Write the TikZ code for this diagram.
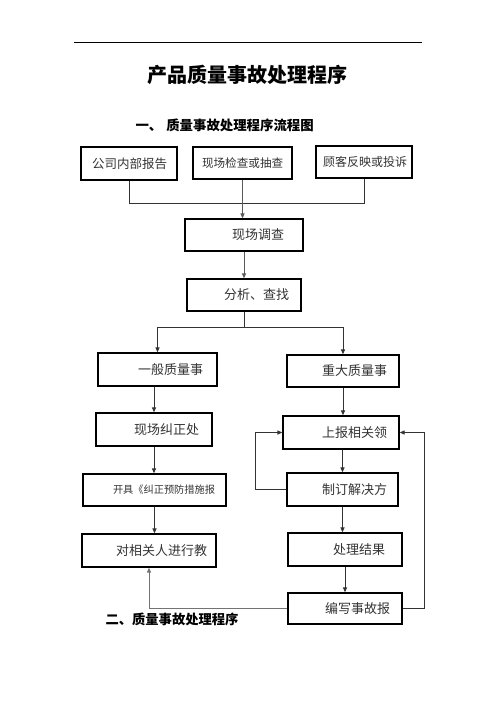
\documentclass[tikz,border=0pt]{standalone}
\usepackage{fontspec}
\setmainfont{Noto Sans CJK SC}
\usetikzlibrary{arrows.meta}
\tikzset{
  box/.style={draw, line width=1.2pt, inner xsep=0pt, align=left,
    text=black!80, font=\fontsize{13}{15}\selectfont},
  link/.style={line width=1pt, draw=black!80},
  arrow/.style={link, -{Triangle[length=5pt,width=4pt]}}
}
\begin{document}
\begin{tikzpicture}[x=1pt,y=-1pt]
            \useasboundingbox (0,0) rectangle (496,702);
            \draw[line width=1pt] (74,42) -- (422,42);
            % titles
            \node[font=\bfseries\fontsize{20}{24}\selectfont] (title) at (247.5,75) {产品质量事故处理程序};
            \node[anchor=west, font=\bfseries\fontsize{13.4}{16}\selectfont] (sub1) at (132,125) {一、\hspace{4pt}质量事故处理程序流程图};
            \node[anchor=west, font=\bfseries\fontsize{13.3}{16}\selectfont] (sub2) at (102,619) {二、质量事故处理程序};
            % sources
            \node[box, text width=96pt, minimum height=33pt, font=\fontsize{12.5}{15}\selectfont] (A) at (129,163.5) {\hspace*{11pt}公司内部报告};
            \node[box, text width=99pt, minimum height=32pt, font=\fontsize{11.6}{14}\selectfont] (B) at (242.5,163) {\hspace*{9pt}现场检查或抽查};
            \node[box, text width=96pt, minimum height=32pt, font=\fontsize{12}{14}\selectfont] (C) at (364,162) {\hspace*{7pt}顾客反映或投诉};
            % main line
            \node[box, text width=118pt, minimum height=32pt] (D) at (244,235) {\hspace*{47pt}现场调查};
            \node[box, text width=114pt, minimum height=32pt] (E) at (244,295) {\hspace*{37pt}分析、查找};
            % left branch
            \node[box, text width=119pt, minimum height=33pt] (F) at (157.5,369.5) {\hspace*{40pt}一般质量事};
            \node[box, text width=116pt, minimum height=33pt] (H) at (154,429.5) {\hspace*{38pt}现场纠正处};
            \node[box, text width=143pt, minimum height=32pt, font=\fontsize{10.2}{12}\selectfont] (J) at (154.5,490) {\hspace*{30pt}开具《纠正预防措施报};
            \node[box, text width=134pt, minimum height=33pt] (M) at (149,550.5) {\hspace*{34pt}对相关人进行教};
            % right branch
            \node[box, text width=112pt, minimum height=32pt] (G) at (343,371) {\hspace*{35pt}重大质量事};
            \node[box, text width=116pt, minimum height=33pt] (I) at (341,432.5) {\hspace*{39pt}上报相关领};
            \node[box, text width=111pt, minimum height=33pt] (K) at (342.5,489.5) {\hspace*{35pt}制订解决方};
            \node[box, text width=114pt, minimum height=33pt] (N) at (345,549.5) {\hspace*{45pt}处理结果};
            \node[box, text width=114pt, minimum height=31pt] (L) at (345,608.5) {\hspace*{37pt}编写事故报};
            % connectors
            \draw[link] (A.south) |- (C.south |- 0,203) -- (C.south);
            \draw[arrow, draw=black!65] (B.south) -- (B.south |- D.north);
            \draw[arrow, draw=black!65] (D.south) -- (E.north);
            \draw[arrow] (E.south) -- ++(0,16) -| (F.north);
            \draw[arrow] (E.south) ++(0,16) -| (G.north);
            \draw[arrow] (H.north |- F.south) -- (H.north);
            \draw[arrow] (H.south) -- (H.south |- J.north);
            \draw[arrow] (J.south) -- (J.south |- M.north);
            \draw[arrow] (G.south) -- (G.south |- I.north);
            \draw[arrow] (K.north |- I.south) -- (K.north);
            \draw[arrow] (K.south) -- (K.south |- N.north);
            \draw[arrow] (N.south) -- (N.south |- L.north);
            \draw[arrow] (K.west) -- ++(-31,0) |- (I.west);
            \draw[arrow] (L.east) -- ++(22,0) |- (I.east);
            \draw[arrow, draw=black!55] (L.west) -| (M.south);
\end{tikzpicture}
\end{document}
